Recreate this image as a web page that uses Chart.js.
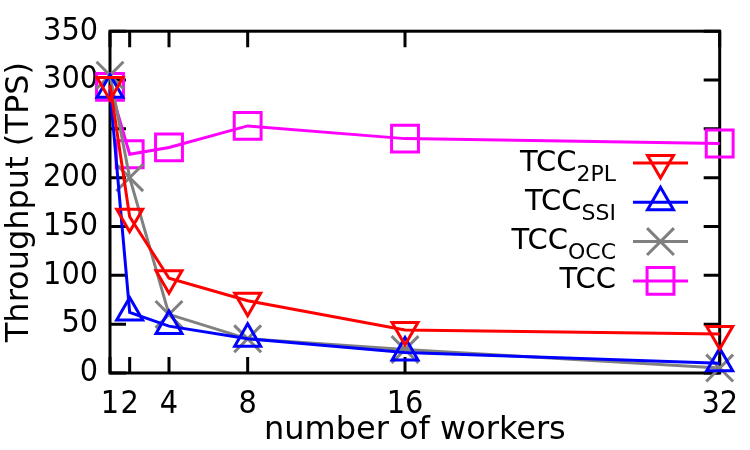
<!DOCTYPE html>
<html>
<head>
<meta charset="utf-8">
<script src="https://cdn.jsdelivr.net/npm/chart.js@4"></script>
<style>
  html, body { margin: 0; padding: 0; background: #fff; }
  #wrap { width: 750px; height: 450px; }
</style>
</head>
<body>
<div id="wrap"><canvas id="myChart" width="750" height="450"></canvas></div>
<script>
const workers = [1, 2, 4, 8, 16, 32]
const xTicks = [1, 2, 4, 8, 16, 32]
const yTicks = [0, 50, 100, 150, 200, 250, 300, 350]

const tcc2pl = [295, 160, 97, 74, 44, 40]
const tccSsi = [290, 62, 48, 35, 21, 10]
const tccOcc = [305, 200, 60, 35, 24, 5]
const tcc = [293, 224, 231, 253, 240, 235]

const COND = '"DejaVu Sans Condensed", "DejaVu Sans", sans-serif'
const WIDE = '"DejaVu Sans", sans-serif'

function pts(vals) {
  return workers.map((w, i) => ({ x: w, y: vals[i] }))
}

function series(main, sub, vals, color, style, rot, radius) {
  return {
    label: main + sub,
    mainText: main,
    subText: sub,
    data: pts(vals),
    borderColor: color,
    backgroundColor: 'rgba(0,0,0,0)',
    borderWidth: 3,
    pointStyle: style,
    pointRotation: rot,
    pointRadius: radius,
    pointHoverRadius: radius,
    pointBorderWidth: 3,
    pointBorderColor: color,
    pointBackgroundColor: 'rgba(0,0,0,0)',
    tension: 0,
    clip: false
  }
}

// box + inward ticks like gnuplot
const frame = {
  id: 'frame',
  beforeDatasetsDraw(chart) {
    const ctx = chart.ctx
    const a = chart.chartArea
    const xs = chart.scales.x, ys = chart.scales.y
    ctx.save()
    ctx.strokeStyle = '#000'
    ctx.lineWidth = 3
    ctx.strokeRect(a.left, a.top, a.right - a.left, a.bottom - a.top)
    const len = 16
    ctx.beginPath()
    xTicks.forEach(v => {
      const px = xs.getPixelForValue(v)
      ctx.moveTo(px, a.bottom); ctx.lineTo(px, a.bottom - len)
      ctx.moveTo(px, a.top); ctx.lineTo(px, a.top + len)
    })
    yTicks.forEach(v => {
      const py = ys.getPixelForValue(v)
      ctx.moveTo(a.left, py); ctx.lineTo(a.left + len, py)
      ctx.moveTo(a.right, py); ctx.lineTo(a.right - len, py)
    })
    ctx.stroke()
    ctx.restore()
  }
}

// legend with subscripts
const subLegend = {
  id: 'subLegend',
  afterDraw(chart) {
    const ctx = chart.ctx
    const textRight = 616, lineL = 633, lineR = 688, top = 163, gap = 39.3
    ctx.save()
    chart.data.datasets.forEach((ds, i) => {
      const y = top + i * gap
      ctx.fillStyle = '#000'
      ctx.textBaseline = 'middle'
      ctx.textAlign = 'left'
      ctx.font = '22px ' + WIDE
      const sw = ds.subText ? ctx.measureText(ds.subText).width : 0
      ctx.font = '29px ' + WIDE
      const mw = ctx.measureText(ds.mainText).width
      const x0 = textRight - sw - mw
      ctx.fillText(ds.mainText, x0, y)
      if (ds.subText) {
        ctx.font = '22px ' + WIDE
        ctx.fillText(ds.subText, x0 + mw, y + 12)
      }
      ctx.strokeStyle = ds.borderColor
      ctx.lineWidth = 3
      ctx.beginPath()
      ctx.moveTo(lineL, y); ctx.lineTo(lineR, y)
      ctx.stroke()
      ctx.fillStyle = 'rgba(0,0,0,0)'
      Chart.helpers.drawPoint(ctx, {
        pointStyle: ds.pointStyle,
        rotation: ds.pointRotation,
        radius: ds.pointRadius,
        borderWidth: 3
      }, (lineL + lineR) / 2, y)
    })
    ctx.restore()
  }
}

const ctx = document.getElementById('myChart').getContext('2d')
const myChart = new Chart(ctx, {
  type: 'line',
  data: {
    datasets: [
      series('TCC', '2PL', tcc2pl, '#ff0000', 'triangle', 180, 15),
      series('TCC', 'SSI', tccSsi, '#0000ff', 'triangle', 0, 15),
      series('TCC', 'OCC', tccOcc, '#808080', 'crossRot', 0, 19),
      series('TCC', '', tcc, '#ff00ff', 'rect', 0, 19)
    ]
  },
  options: {
    responsive: false,
    animation: false,
    layout: { padding: { left: 0, top: 13, right: 27, bottom: 0 } },
    plugins: {
      legend: { display: false },
      tooltip: { enabled: false }
    },
    scales: {
      x: {
        type: 'linear',
        min: 1,
        max: 32,
        afterBuildTicks: s => { s.ticks = xTicks.map(v => ({ value: v })) },
        afterFit: s => { s.height = 77 },
        grid: { display: false, drawTicks: false },
        border: { display: false },
        ticks: { color: '#000', font: { family: COND, size: 32 }, padding: 12, maxRotation: 0, autoSkip: false },
        title: { display: true, text: 'number of workers', color: '#000', font: { family: WIDE, size: 32 }, padding: 0 }
      },
      y: {
        min: 0,
        max: 350,
        afterBuildTicks: s => { s.ticks = yTicks.map(v => ({ value: v })) },
        afterFit: s => { s.width = 110 },
        grid: { display: false, drawTicks: false },
        border: { display: false },
        ticks: { color: '#000', font: { family: COND, size: 32 }, padding: 12 },
        title: { display: true, text: 'Throughput (TPS)', color: '#000', font: { family: WIDE, size: 32 }, padding: 0 }
      }
    }
  },
  plugins: [frame, subLegend]
})
</script>
</body>
</html>
